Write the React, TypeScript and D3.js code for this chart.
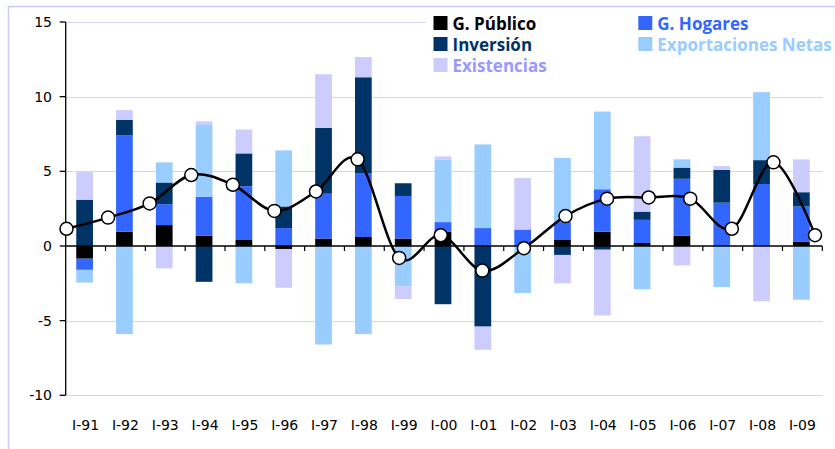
import React from "react";
import * as d3 from "d3";

const categories = ["I-91","I-92","I-93","I-94","I-95","I-96","I-97","I-98","I-99","I-00","I-01","I-02","I-03","I-04","I-05","I-06","I-07","I-08","I-09"];
const publico = [-0.85, 0.95, 1.4, 0.7, 0.4, -0.2, 0.5, 0.6, 0.5, 0.95, 0, 0, 0.4, 0.95, 0.2, 0.7, 0, 0, 0.3];
const hogares = [-0.75, 6.45, 1.4, 2.6, 3.6, 1.2, 3.0, 4.25, 2.85, 0.65, 1.2, 1.1, 1.2, 2.85, 1.55, 3.8, 2.9, 4.15, 2.35];
const inversion = [3.1, 1.05, 1.45, -2.4, 2.2, 1.45, 4.4, 6.45, 0.85, -3.9, -5.4, 0, -0.6, -0.25, 0.55, 0.75, 2.2, 1.6, 0.95];
const exportaciones = [-0.85, -5.9, 1.35, 4.8, -2.5, 3.75, -6.6, -5.9, -2.7, 4.2, 5.6, -3.15, 4.3, 5.2, -2.9, 0.55, -2.75, 4.55, -3.6];
const existencias = [1.85, 0.65, -1.5, 0.25, 1.6, -2.6, 3.6, 1.35, -0.85, 0.2, -1.55, 3.45, -1.9, -4.4, 5.05, -1.3, 0.25, -3.7, 2.2];
const pib = [1.15, 1.9, 2.85, 4.75, 4.1, 2.35, 3.65, 5.8, -0.8, 0.72, -1.65, -0.15, 2.0, 3.17, 3.25, 3.17, 1.15, 5.6, 0.72];
const yTicks = [-10, -5, 0, 5, 10, 15];

const seriesKeys = ["publico", "hogares", "inversion", "exportaciones", "existencias"];
const seriesNames = ["G. Público", "G. Hogares", "Inversión", "Exportaciones Netas", "Existencias"];
const seriesColors = ["#000000", "#3366FF", "#003366", "#99CCFF", "#CCCCFF"];
const legendText = ["#000000", "#3366FF", "#003366", "#99CCFF", "#9999FF"];

export default function App() {
  const x0 = 65.7, x1 = 822.3, yTop = 22, yBot = 395.3;
  const x = d3.scaleBand<string>().domain(categories).range([x0, x1]).paddingInner(0.58).paddingOuter(0.29);
  const xb = d3.scaleBand<string>().domain(categories).range([x0, x1]);
  const xl = d3.scalePoint<string>().domain(categories).range([66.5, 815]);
  const y = d3.scaleLinear().domain([-10, 15]).range([yBot, yTop]);

  const table = categories.map((c, i) => ({
    cat: c,
    publico: publico[i],
    hogares: hogares[i],
    inversion: inversion[i],
    exportaciones: exportaciones[i],
    existencias: existencias[i],
  }));
  const stacked = d3.stack<any>().keys(seriesKeys).offset(d3.stackOffsetDiverging)(table);

  const line = d3
    .line<number>()
    .x((_, i) => xl(categories[i])!)
    .y((d) => y(d))
    .curve(d3.curveCardinal.tension(0));

  const legendItems = [
    { idx: 0, col: 0, row: 0 },
    { idx: 2, col: 0, row: 1 },
    { idx: 4, col: 0, row: 2 },
    { idx: 1, col: 1, row: 0 },
    { idx: 3, col: 1, row: 1 },
  ];
  const gridColor = "#D4D4FA";
  const axisFont = "'DejaVu Sans', Verdana, sans-serif";

  return (
    <svg width={835} height={449} style={{ position: "absolute", left: 0, top: 0, background: "#fff" }}>
      <line x1={8} x2={835} y1={6.5} y2={6.5} stroke="#CCCCF8" strokeWidth={1.5} />
      <line x1={8.5} x2={8.5} y1={6} y2={449} stroke="#CCCCF8" strokeWidth={1.5} />
      {yTicks.filter((t) => t !== 0).map((t) => (
        <line key={t} x1={x0} x2={x1} y1={Math.round(y(t)) + 0.5} y2={Math.round(y(t)) + 0.5} stroke={gridColor} strokeWidth={1} />
      ))}
      <g transform="translate(-1,0)">
        {stacked.map((s, si) => (
          <g key={s.key} fill={seriesColors[si]}>
            {s.map((d, i) => {
              const a = y(d[0]), b = y(d[1]);
              const h = Math.abs(a - b);
              if (h < 0.01) return null;
              return <rect key={i} x={x(categories[i])!} width={x.bandwidth()} y={Math.min(a, b)} height={h} />;
            })}
          </g>
        ))}
      </g>
      <line x1={x0} x2={x0} y1={yTop} y2={yBot} stroke="#000" strokeWidth={1.3} />
      {yTicks.map((t) => (
        <g key={t}>
          <line x1={x0 - 6} x2={x0} y1={y(t)} y2={y(t)} stroke="#000" strokeWidth={1.3} />
          <text x={52} y={y(t)} dy="0.36em" textAnchor="end" style={{ fontFamily: axisFont }} fontSize={14} fill="#000">
            {t}
          </text>
        </g>
      ))}
      <line x1={x0} x2={x1} y1={y(0)} y2={y(0)} stroke="#000" strokeWidth={1.3} />
      {categories.map((c) => (
        <line key={c} x1={xb(c)! + xb.bandwidth()} x2={xb(c)! + xb.bandwidth()} y1={y(0)} y2={y(0) + 5} stroke="#000" strokeWidth={1.2} />
      ))}
      {categories.map((c) => (
        <text key={c} x={xb(c)! + xb.bandwidth() / 2} y={430} textAnchor="middle" style={{ fontFamily: axisFont }} fontSize={14} fill="#000">
          {c}
        </text>
      ))}
      <path d={line(pib)!} fill="none" stroke="#000" strokeWidth={2.5} />
      {pib.map((v, i) => (
        <circle key={i} cx={xl(categories[i])!} cy={y(v)} r={6.5} fill="#fff" stroke="#000" strokeWidth={1.5} />
      ))}
      <rect x={426} y={8} width={409} height={68} fill="#fff" />
      {legendItems.map((it) => {
        const lx = it.col === 0 ? 433.5 : 638.3;
        const ly = 30 + it.row * 21;
        return (
          <g key={it.idx}>
            <rect x={lx} y={ly - 14} width={14} height={14} fill={seriesColors[it.idx]} />
            <text x={lx + 19} y={ly} style={{ fontFamily: "'Open Sans', sans-serif" }} fontWeight="bold" fontSize={17} fill={legendText[it.idx]}>
              {seriesNames[it.idx]}
            </text>
          </g>
        );
      })}
    </svg>
  );
}
